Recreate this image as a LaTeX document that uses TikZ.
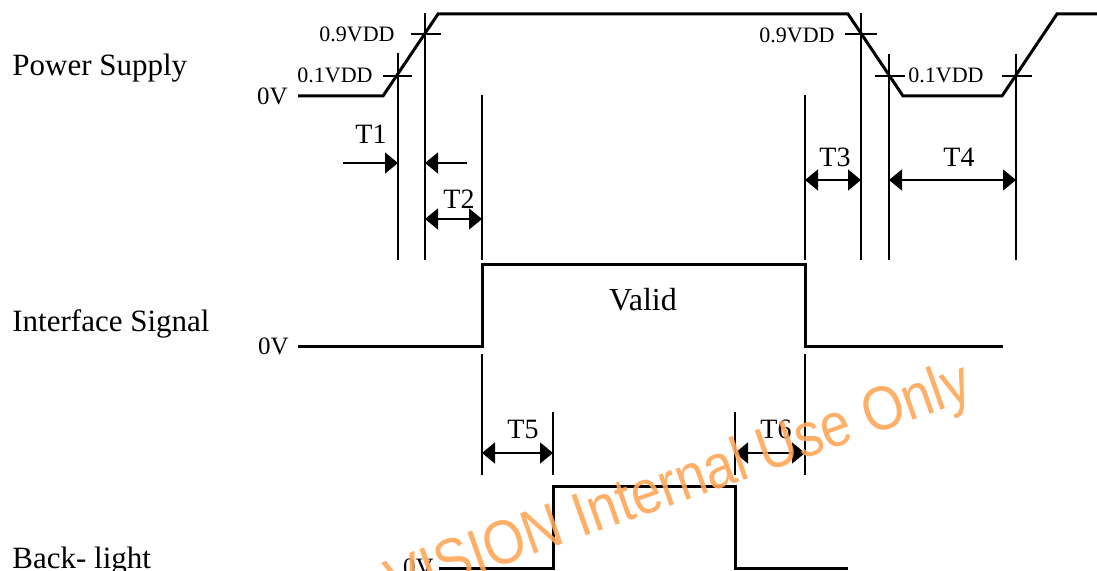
\documentclass[tikz,border=0pt]{standalone}
\usepackage{fontspec}
\setmainfont{Liberation Serif}
\newfontfamily\wmfont{Liberation Sans}
\usetikzlibrary{arrows.meta}
\definecolor{wmorange}{RGB}{255,166,88}
\begin{document}
\begin{tikzpicture}[x=0.5pt,y=-0.5pt,
  sig/.style={line width=1.5pt, line join=miter},
  vline/.style={line width=1.2pt},
  tickmark/.style={line width=1pt},
  dimarrow/.style={line width=0.8pt, {Triangle[length=6.5pt,width=10.5pt]}-{Triangle[length=6.5pt,width=10.5pt]}},
  onearrow/.style={line width=0.8pt, -{Triangle[length=6.5pt,width=10.5pt]}},
  rowlabel/.style={anchor=base west, inner sep=0pt, font=\fontsize{15.5}{18}\selectfont},
  lvl/.style={inner sep=0pt, font=\fontsize{11}{13}\selectfont},
  zero/.style={anchor=base east, inner sep=0pt, font=\fontsize{12.5}{15}\selectfont},
  tlabel/.style={anchor=base, inner sep=0pt, font=\fontsize{14}{16}\selectfont},
  watermark/.style={inner sep=0pt, text=wmorange, opacity=0.9, font=\wmfont\fontsize{31}{35}\selectfont}
]
\useasboundingbox (0,0) rectangle (1097,571);

% row labels
\node[rowlabel] (lps) at (12,76) {Power Supply};
\node[rowlabel] (lis) at (12,332) {Interface Signal};
\node[rowlabel] (lbl) at (12,568) {Back- light};

% ---------------- Power supply ----------------
\draw[sig] (298,96) -- (383,96) -- (438,14) -- (848,14) -- (903,96) -- (1002,96) -- (1057,14) -- (1097,14);
\node[zero] (z1) at (288,105) {0V};
\node[lvl, anchor=base east] (a01) at (373,83) {0.1VDD};
\node[lvl, anchor=base east] (a09) at (395,42) {0.9VDD};
\node[lvl, anchor=base east] (b09) at (835,43) {0.9VDD};
\node[lvl, anchor=base west] (b01) at (908,83) {0.1VDD};

% vertical reference lines
\coordinate (v1t) at (398,53);  \coordinate (v1b) at (398,260);
\coordinate (v2t) at (425,13);  \coordinate (v2b) at (425,260);
\coordinate (v3t) at (482,95);  \coordinate (v3b) at (482,260);
\coordinate (v4t) at (805,95);  \coordinate (v4b) at (805,260);
\coordinate (v5t) at (861,13);  \coordinate (v5b) at (861,260);
\coordinate (v6t) at (889,54);  \coordinate (v6b) at (889,260);
\coordinate (v7t) at (1016,54); \coordinate (v7b) at (1016,260);
\foreach \v in {1,...,7} \draw[vline] (v\v t) -- (v\v b);

% ticks
\draw[tickmark] (383,76) -- (412,76);
\draw[tickmark] (411,34) -- (441,34);
\draw[tickmark] (845,34) -- (877,34);
\draw[tickmark] (875,76) -- (905,76);
\draw[tickmark] (1002,76) -- (1032,76);

% T1
\coordinate (t1s) at (343,163); \coordinate (t1e) at (398,163);
\draw[onearrow] (t1s) -- (t1e);
\coordinate (t1s2) at (467,163); \coordinate (t1e2) at (425,163);
\draw[onearrow] (t1s2) -- (t1e2);
\node[tlabel] (T1) at (371,144) {T1};
% T2
\coordinate (t2a) at (425,219); \coordinate (t2b) at (482,219);
\draw[dimarrow] (t2a) -- (t2b);
\node[tlabel] (T2) at (459,209) {T2};
% T3
\coordinate (t3a) at (805,180); \coordinate (t3b) at (861,180);
\draw[dimarrow] (t3a) -- (t3b);
\node[tlabel] (T3) at (835,167) {T3};
% T4
\coordinate (t4a) at (889,180); \coordinate (t4b) at (1016,180);
\draw[dimarrow] (t4a) -- (t4b);
\node[tlabel] (T4) at (959,167) {T4};

% ---------------- Interface signal ----------------
\draw[sig] (298,347) -- (482,347) -- (482,265) -- (805,265) -- (805,347) -- (1003,347);
\node[zero] (z2) at (289,355) {0V};
\node[anchor=base, inner sep=0pt, font=\fontsize{16}{19}\selectfont] (valid) at (643,311) {Valid};

\coordinate (w1t) at (482,354); \coordinate (w1b) at (482,475);
\coordinate (w2t) at (553,412); \coordinate (w2b) at (553,475);
\coordinate (w3t) at (735,412); \coordinate (w3b) at (735,475);
\coordinate (w4t) at (805,354); \coordinate (w4b) at (805,475);
\foreach \v in {1,...,4} \draw[vline] (w\v t) -- (w\v b);

\coordinate (t5a) at (482,453); \coordinate (t5b) at (553,453);
\draw[dimarrow] (t5a) -- (t5b);
\node[tlabel] (T5) at (523,438) {T5};
\coordinate (t6a) at (735,453); \coordinate (t6b) at (805,453);
\draw[dimarrow] (t6a) -- (t6b);
\node[tlabel] (T6) at (776,438) {T6};

% ---------------- Back-light ----------------
\draw[sig] (439,568) -- (553,568) -- (553,486) -- (735,486) -- (735,568) -- (848,568);
\node[zero] (z3) at (434,575) {0V};

% watermark
\node[watermark, anchor=base west, rotate=19.5, xscale=0.87] (wm) at (395,604) {VISION Internal Use Only};
\end{tikzpicture}
\end{document}
